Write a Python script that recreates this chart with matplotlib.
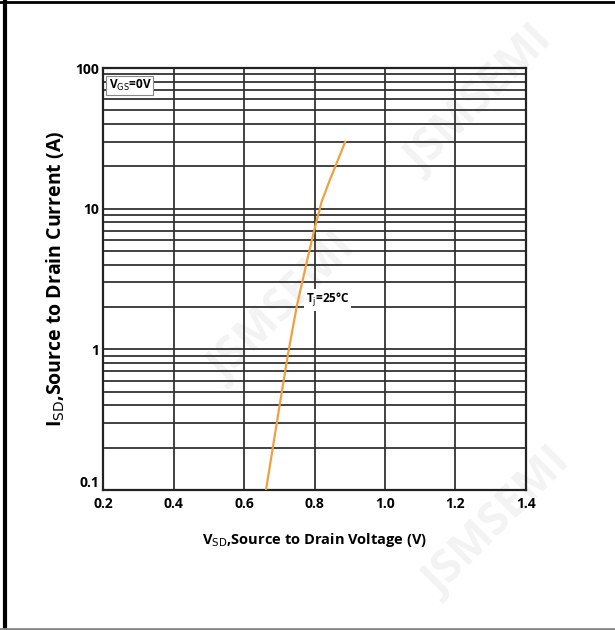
import numpy as np
import matplotlib
matplotlib.use("Agg")
from matplotlib import pyplot as plt
from matplotlib.ticker import FixedLocator, NullFormatter

# curve (Tj = 25C)
vsd = [0.662, 0.700, 0.725, 0.749, 0.778, 0.800, 0.820, 0.845, 0.866, 0.887]
isd = [0.10, 0.39, 0.94, 2.0, 4.2, 7.2, 11.2, 16.4, 22.1, 29.9]
xticks = [0.2, 0.4, 0.6, 0.8, 1.0, 1.2, 1.4]
xlabels = ["0.2", "0.4", "0.6", "0.8", "1.0", "1.2", "1.4"]
yticks = [0.1, 1, 10, 100]
ylabels = ["0.1", "1", "10", "100"]

plt.rcParams['font.family'] = ['Open Sans', 'DejaVu Sans']
plt.rcParams['mathtext.fontset'] = 'dejavusans'

fig = plt.figure(figsize=(6.15, 6.3), dpi=100)
ax = fig.add_axes([0.168, 0.222, 0.687, 0.670])
ax.set_facecolor('none')

# faint watermark
for (x, y) in [(0.78, 0.84), (0.46, 0.51), (0.81, 0.17)]:
    fig.text(x, y, "JSMSEMI", fontsize=32, fontweight='bold', color='#f3f3f3',
             rotation=45, ha='center', va='center', zorder=-1)

ax.set_xlim(0.2, 1.4)
ax.set_yscale('log')
ax.set_ylim(0.1, 100)

minor = [m * 10.0**e for e in (-1, 0, 1) for m in range(2, 10)]
ax.yaxis.set_minor_locator(FixedLocator(minor))
ax.yaxis.set_minor_formatter(NullFormatter())
ax.set_xticks(xticks)
ax.set_xticklabels(xlabels)
ax.set_yticks(yticks)
ax.set_yticklabels(ylabels)
ax.grid(True, which='both', axis='y', color='#333333', lw=1.3)
ax.grid(True, which='major', axis='x', color='#333333', lw=1.3)
ax.tick_params(which='both', length=0, labelsize=10)
ax.tick_params(axis='x', pad=5)
ax.tick_params(axis='y', pad=3)
for lab in ax.get_xticklabels() + ax.get_yticklabels():
    lab.set_fontweight('bold')
ax.get_yticklabels()[0].set_va('bottom')
for s in ax.spines.values():
    s.set_linewidth(1.6)
    s.set_color('#222222')

ax.plot(vsd, isd, color='#f0a040', lw=1.6, zorder=3)

ax.text(0.215, 85, r"V$_{\mathrm{GS}}$=0V", fontsize=8.5, fontweight='bold', va='top', ha='left',
        bbox=dict(facecolor='white', edgecolor='#888888', lw=0.8, pad=1.5), zorder=4)
ax.text(0.775, 2.25, "T$_{\\mathrm{j}}$=25°C", fontsize=8.5, fontweight='bold',
        va='center', ha='left', bbox=dict(facecolor='white', edgecolor='none', pad=1.5), zorder=4)

ax.set_xlabel(r"V$_{\mathrm{SD}}$,Source to Drain Voltage (V)", fontsize=10.5, fontweight='bold', labelpad=14)
ax.set_ylabel(r"I$_{\mathrm{SD}}$,Source to Drain Current (A)", fontsize=14, fontweight='bold', labelpad=6)

# page frame
fig.add_artist(plt.Line2D([0.008, 0.008], [0, 1], color='black', lw=3, transform=fig.transFigure))
fig.add_artist(plt.Line2D([0, 1], [0.997, 0.997], color='black', lw=2, transform=fig.transFigure))
fig.add_artist(plt.Line2D([0, 1], [0.002, 0.002], color='#888888', lw=2, transform=fig.transFigure))

fig.savefig("out.png", dpi=100)
